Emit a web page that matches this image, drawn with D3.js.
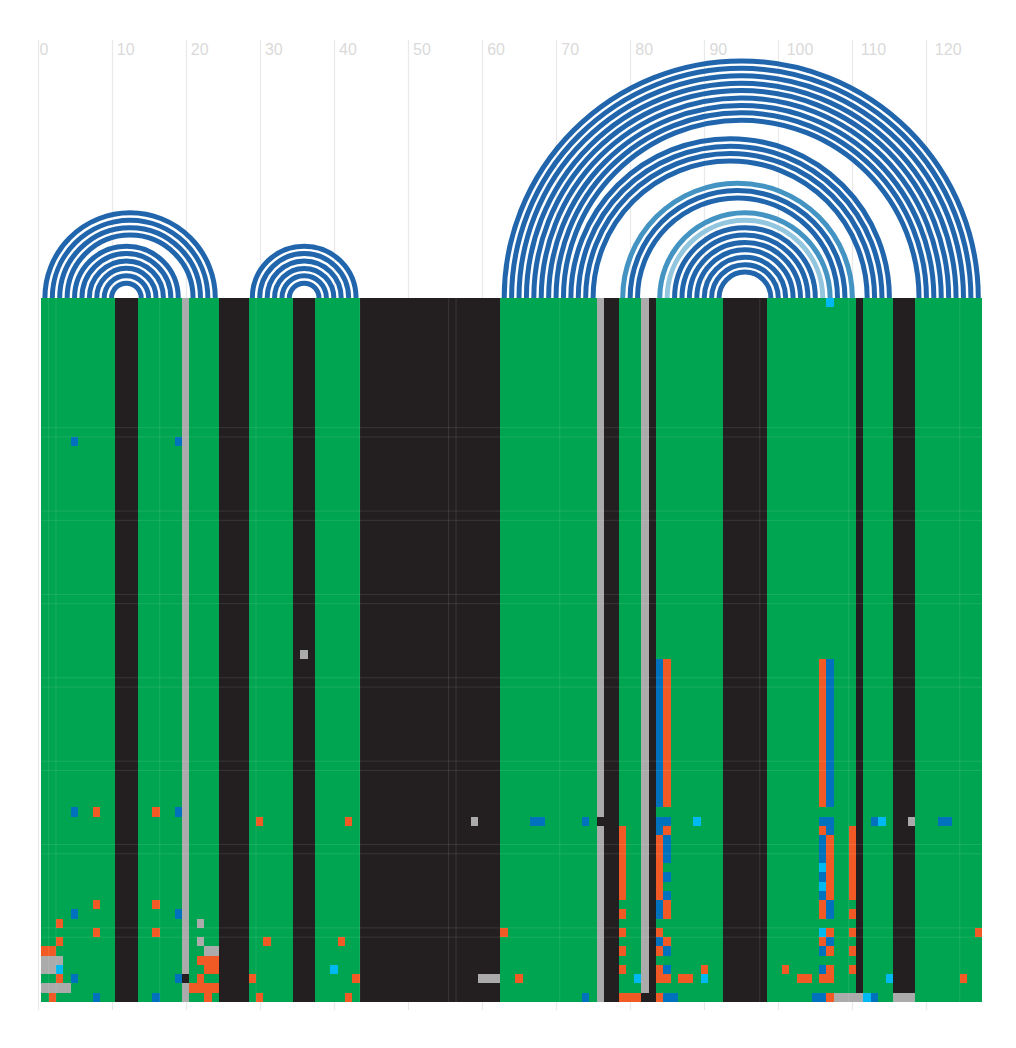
<!DOCTYPE html>
<html>
<head>
<meta charset="utf-8">
<script src="https://cdn.jsdelivr.net/npm/d3@7"></script>
<style>
  html, body { margin: 0; padding: 0; background: #ffffff; }
  svg { display: block; }
</style>
</head>
<body>
<svg id="chart" width="1016" height="1048"></svg>
<script>
// ---------------- DATA ----------------
// Axis tick labels (alignment position)
const tickValues = [0, 10, 20, 30, 40, 50, 60, 70, 80, 90, 100, 110, 120];

// Number of alignment columns and sequences (rows)
const nColumns = 127;
const nRows = 76;

// Column base class runs: [firstColumn, lastColumn, class]
// N = paired (green), K = unpaired (black), G = gap (grey)
const columnRuns = [
  [1, 10, 'N'], [11, 13, 'K'], [14, 19, 'N'], [20, 20, 'G'], [21, 24, 'N'],
  [25, 28, 'K'], [29, 34, 'N'], [35, 37, 'K'], [38, 43, 'N'], [44, 62, 'K'],
  [63, 75, 'N'], [76, 76, 'G'], [77, 78, 'K'], [79, 81, 'N'], [82, 82, 'G'],
  [83, 83, 'K'], [84, 92, 'N'], [93, 98, 'K'], [99, 110, 'N'], [111, 111, 'K'],
  [112, 115, 'N'], [116, 118, 'K'], [119, 127, 'N']
];

// Base pairs drawn as arcs: [i, j, colourClass]  (1 = dark, 2 = medium, 3 = light)
const basePairs = [
  [1, 24, 1], [2, 23, 1], [3, 22, 1], [4, 21, 1],
  [5, 19, 1], [6, 18, 1], [7, 17, 1], [8, 16, 1], [9, 15, 1], [10, 14, 1],
  [29, 43, 1], [30, 42, 1], [31, 41, 1], [32, 40, 1], [33, 39, 1], [34, 38, 1],
  [63, 127, 1], [64, 126, 1], [65, 125, 1], [66, 124, 1], [67, 123, 1],
  [68, 122, 1], [69, 121, 1], [70, 120, 1], [71, 119, 1],
  [72, 115, 1], [73, 114, 1], [74, 113, 1], [75, 112, 1],
  [79, 110, 2], [80, 109, 1], [81, 108, 1],
  [84, 107, 2], [85, 106, 3], [86, 105, 1], [87, 104, 1], [88, 103, 1],
  [89, 102, 1], [90, 101, 1], [91, 100, 1], [92, 99, 1]
];

// Cells that differ from their column's base class:
// [firstRow, lastRow, firstColumn, lastColumn, class]
// O = invalid pair (orange), B = covariation (blue), C = one-sided (cyan)
const cellOverrides = [
  [0, 0, 107, 107, 'C'],
  [15, 15, 5, 5, 'B'], [15, 15, 19, 19, 'B'],
  [38, 38, 36, 36, 'G'],
  [39, 54, 84, 84, 'B'], [39, 54, 85, 85, 'O'], [39, 54, 106, 106, 'O'], [39, 54, 107, 107, 'B'],
  [55, 55, 5, 5, 'B'], [55, 55, 8, 8, 'O'], [55, 55, 16, 16, 'O'], [55, 55, 19, 19, 'B'],
  [56, 56, 30, 30, 'O'], [56, 56, 42, 42, 'O'], [56, 56, 59, 59, 'G'], [56, 56, 67, 68, 'B'],
  [56, 56, 74, 74, 'B'], [56, 56, 76, 76, 'K'], [56, 56, 84, 85, 'B'], [56, 56, 89, 89, 'C'],
  [56, 56, 106, 107, 'B'], [56, 56, 113, 113, 'B'], [56, 56, 114, 114, 'C'],
  [56, 56, 118, 118, 'G'], [56, 56, 122, 123, 'B'],
  [57, 64, 79, 79, 'O'], [57, 64, 110, 110, 'O'],
  [57, 57, 84, 84, 'B'], [57, 57, 85, 85, 'O'], [57, 57, 106, 106, 'O'], [57, 57, 107, 107, 'B'],
  [58, 64, 84, 84, 'O'], [58, 64, 107, 107, 'O'],
  [58, 60, 85, 85, 'B'], [58, 60, 106, 106, 'B'],
  [61, 61, 106, 106, 'C'],
  [62, 62, 85, 85, 'B'], [62, 62, 106, 106, 'B'],
  [63, 63, 106, 106, 'C'],
  [64, 64, 85, 85, 'B'], [64, 64, 106, 106, 'B'],
  [65, 65, 8, 8, 'O'], [65, 65, 16, 16, 'O'],
  [65, 66, 84, 84, 'B'], [65, 66, 85, 85, 'O'], [65, 66, 106, 106, 'O'], [65, 66, 107, 107, 'B'],
  [66, 66, 5, 5, 'B'], [66, 66, 19, 19, 'B'], [66, 66, 79, 79, 'O'], [66, 66, 110, 110, 'O'],
  [67, 67, 3, 3, 'O'], [67, 67, 22, 22, 'G'],
  [68, 68, 8, 8, 'O'], [68, 68, 16, 16, 'O'], [68, 68, 63, 63, 'O'], [68, 68, 79, 79, 'O'],
  [68, 68, 84, 84, 'O'], [68, 68, 106, 106, 'C'], [68, 68, 107, 107, 'O'], [68, 68, 110, 110, 'O'],
  [68, 68, 127, 127, 'O'],
  [69, 69, 3, 3, 'O'], [69, 69, 22, 22, 'G'], [69, 69, 31, 31, 'O'], [69, 69, 41, 41, 'O'],
  [69, 69, 84, 84, 'B'], [69, 69, 85, 85, 'O'], [69, 69, 106, 106, 'O'], [69, 69, 107, 107, 'B'],
  [70, 70, 1, 2, 'O'], [70, 70, 23, 24, 'G'], [70, 70, 79, 79, 'O'], [70, 70, 84, 84, 'O'],
  [70, 70, 85, 85, 'B'], [70, 70, 106, 106, 'B'], [70, 70, 107, 107, 'O'], [70, 70, 110, 110, 'O'],
  [71, 71, 1, 3, 'G'], [71, 71, 22, 24, 'O'],
  [72, 72, 1, 2, 'G'], [72, 72, 3, 3, 'C'], [72, 72, 23, 24, 'O'], [72, 72, 40, 40, 'C'],
  [72, 72, 79, 79, 'O'], [72, 72, 84, 84, 'O'], [72, 72, 85, 85, 'B'], [72, 72, 90, 90, 'O'],
  [72, 72, 101, 101, 'O'], [72, 72, 106, 106, 'B'], [72, 72, 107, 107, 'O'], [72, 72, 110, 110, 'O'],
  [73, 73, 3, 3, 'O'], [73, 73, 5, 5, 'B'], [73, 73, 19, 19, 'B'], [73, 73, 20, 20, 'K'],
  [73, 73, 22, 22, 'O'], [73, 73, 29, 29, 'O'], [73, 73, 43, 43, 'O'], [73, 73, 60, 62, 'G'],
  [73, 73, 65, 65, 'O'], [73, 73, 81, 81, 'C'], [73, 73, 84, 85, 'O'], [73, 73, 87, 88, 'O'],
  [73, 73, 90, 90, 'C'], [73, 73, 103, 104, 'O'], [73, 73, 106, 107, 'O'], [73, 73, 115, 115, 'C'],
  [73, 73, 125, 125, 'O'],
  [74, 74, 1, 4, 'G'], [74, 74, 21, 24, 'O'],
  [75, 75, 2, 2, 'O'], [75, 75, 8, 8, 'B'], [75, 75, 16, 16, 'B'], [75, 75, 23, 23, 'O'],
  [75, 75, 30, 30, 'O'], [75, 75, 42, 42, 'O'], [75, 75, 74, 74, 'B'], [75, 75, 79, 81, 'O'],
  [75, 75, 82, 82, 'K'], [75, 75, 84, 84, 'O'], [75, 75, 85, 86, 'B'], [75, 75, 105, 106, 'B'],
  [75, 75, 107, 107, 'O'], [75, 75, 108, 111, 'G'], [75, 75, 112, 112, 'C'], [75, 75, 113, 113, 'B'],
  [75, 75, 116, 118, 'G']
];

// Faint tile seams visible in the original raster (row / column boundaries)
const seamRows = [14, 15, 23, 24, 32, 33, 41, 42, 50, 51, 59, 60, 68, 69];
const seamColumns = [1.5, 2.5, 16.5, 29.5, 43.5, 55.5, 56.5, 70.5, 97.5, 109.5, 124.5];

// ---------------- STYLE ----------------
const cellColor = {
  N: '#00a551', K: '#231f20', G: '#ababab',
  O: '#f15a24', B: '#0071bc', C: '#00b9f2'
};
const arcColor = { 1: '#2166ac', 2: '#4393c3', 3: '#92c5de' };

// ---------------- DRAW ----------------
const svg = d3.select('#chart');
const x = d3.scaleLinear().domain([0, 127.5]).range([37.5, 982]);
const y = d3.scaleLinear().domain([0, nRows]).range([298, 1002]);
const baseY = y(0);

// grid lines + labels
const gridG = svg.append('g');
gridG.selectAll('line').data(tickValues).join('line')
  .attr('x1', d => Math.round(x(d)) + 0.5).attr('x2', d => Math.round(x(d)) + 0.5)
  .attr('y1', 40).attr('y2', 1010)
  .attr('stroke', '#e9e9e9').attr('stroke-width', 1.2);
gridG.selectAll('text').data(tickValues).join('text')
  .attr('x', d => x(d) + 2 + 3.2 * (String(d).length - 1)).attr('y', 55)
  .attr('font-family', '"Liberation Sans", Arial, Helvetica, sans-serif')
  .attr('font-size', 16).attr('fill', '#dadada')
  .text(d => d);

// arcs
svg.append('g').selectAll('path').data(basePairs).join('path')
  .attr('d', d => {
    const x1 = x(d[0]), x2 = x(d[1]);
    const r = (x2 - x1) / 2;
    return `M${x1},${baseY} A${r},${r} 0 0 1 ${x2},${baseY}`;
  })
  .attr('fill', 'none')
  .attr('stroke', d => arcColor[d[2]])
  .attr('stroke-width', 5);

// cells: base column stripes
const cellsG = svg.append('g').attr('shape-rendering', 'crispEdges');
cellsG.selectAll('rect.base').data(columnRuns).join('rect')
  .attr('class', 'base')
  .attr('x', d => x(d[0] - 0.5))
  .attr('width', d => x(d[1] + 0.5) - x(d[0] - 0.5))
  .attr('y', y(0)).attr('height', y(nRows) - y(0))
  .attr('fill', d => cellColor[d[2]]);

// cells: overrides
cellsG.selectAll('rect.ov').data(cellOverrides).join('rect')
  .attr('class', 'ov')
  .attr('x', d => x(d[2] - 0.5))
  .attr('width', d => x(d[3] + 0.5) - x(d[2] - 0.5))
  .attr('y', d => y(d[0]))
  .attr('height', d => y(d[1] + 1) - y(d[0]))
  .attr('fill', d => cellColor[d[4]]);

// faint seams
const seamG = svg.append('g').attr('stroke', '#ffffff').attr('stroke-opacity', 0.1).attr('stroke-width', 1);
seamG.selectAll('line.h').data(seamRows).join('line')
  .attr('class', 'h')
  .attr('x1', x(0.5)).attr('x2', x(nColumns + 0.5))
  .attr('y1', d => y(d)).attr('y2', d => y(d));
seamG.selectAll('line.v').data(seamColumns).join('line')
  .attr('class', 'v')
  .attr('x1', d => x(d)).attr('x2', d => x(d))
  .attr('y1', y(0)).attr('y2', y(nRows));
</script>
</body>
</html>
